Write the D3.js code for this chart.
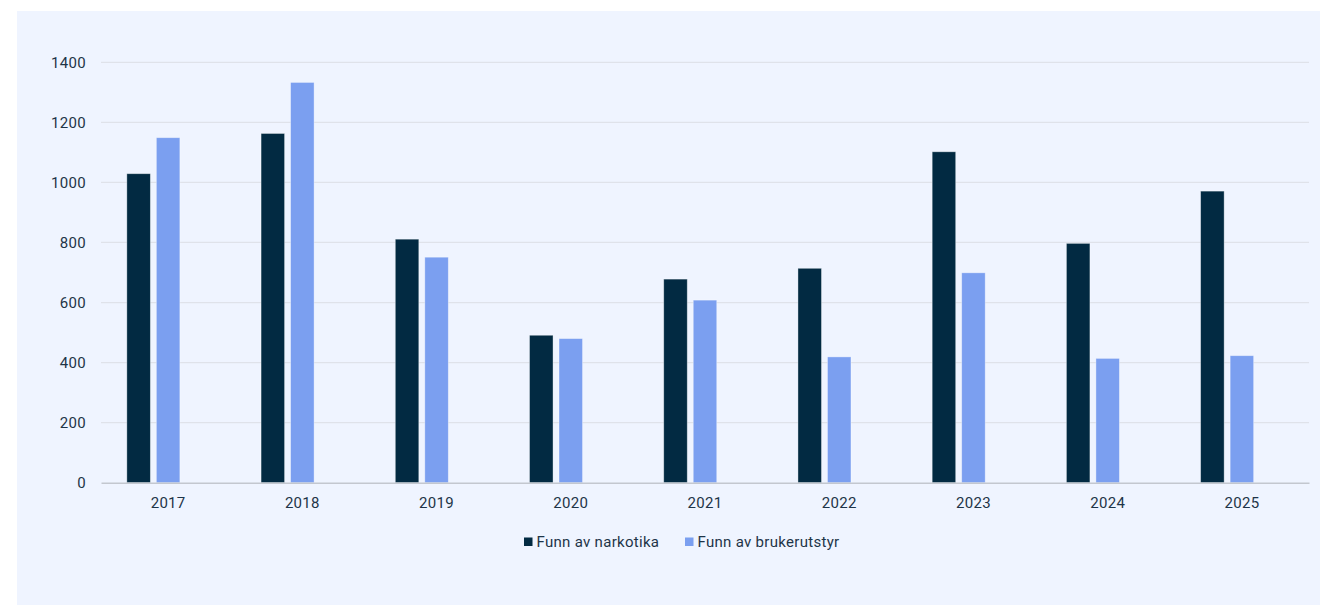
<!DOCTYPE html>
<html>
<head>
<meta charset="utf-8">
<script src="https://cdn.jsdelivr.net/npm/d3@7/dist/d3.min.js"></script>
<style>
  html, body { margin: 0; padding: 0; background: #ffffff; }
  svg { display: block; font-family: Roboto, "Noto Sans", sans-serif; }
  svg text { letter-spacing: 0.3px; }
</style>
</head>
<body>
<svg id="chart" width="1320" height="605"></svg>
<script>
// Yearly seizures: drugs vs. user equipment
const years = ["2017", "2018", "2019", "2020", "2021", "2022", "2023", "2024", "2025"];
const narkotika = [1029, 1163, 811, 491, 678, 714, 1102, 797, 971];
const brukerutstyr = [1149, 1333, 751, 480, 608, 419, 699, 414, 423];
const seriesNames = ["Funn av narkotika", "Funn av brukerutstyr"];
const seriesColors = ["#022a42", "#7b9ff0"];
const yTicks = [0, 200, 400, 600, 800, 1000, 1200, 1400];

const svg = d3.select("#chart");
const textColor = "#1e3448";
const fontSize = "15px";

// Panel background
svg.append("rect")
  .attr("x", 17).attr("y", 11)
  .attr("width", 1320 - 17).attr("height", 605 - 11)
  .attr("fill", "#eff4ff");

const plot = { left: 101, right: 1309, top: 62.3, bottom: 482.7 };

const x = d3.scaleBand().domain(years).range([plot.left, plot.right]).paddingInner(0).paddingOuter(0);
// three slots per year; the third slot stays empty
const slots = ["a", "b", "c"];
const xs = d3.scaleBand().domain(slots).range([0, x.bandwidth()]).paddingInner(0.203).paddingOuter(0.876);
const y = d3.scaleLinear().domain([0, 1400]).range([plot.bottom, plot.top]);

// Gridlines
svg.append("g")
  .selectAll("line")
  .data(yTicks.filter(d => d > 0))
  .join("line")
  .attr("x1", plot.left).attr("x2", plot.right)
  .attr("y1", d => y(d)).attr("y2", d => y(d))
  .attr("stroke", "#dfe2ea").attr("stroke-width", 1.3);

// Y axis labels
const yAxis = svg.append("g")
  .attr("transform", `translate(${plot.left},0)`)
  .call(d3.axisLeft(y).tickValues(yTicks).tickSize(0).tickPadding(15).tickFormat(d3.format("d")));
yAxis.select(".domain").remove();
yAxis.selectAll("text").attr("fill", textColor).style("font-size", fontSize).style("font-family", "Roboto");

// Bars
const rows = years.map((yr, i) => ({ year: yr, values: [narkotika[i], brukerutstyr[i]] }));
const groups = svg.append("g").selectAll("g")
  .data(rows)
  .join("g")
  .attr("transform", d => `translate(${x(d.year)},0)`);

groups.selectAll("rect")
  .data(d => d.values.map((v, k) => ({ v, k })))
  .join("rect")
  .attr("x", d => xs(slots[d.k]))
  .attr("width", xs.bandwidth())
  .attr("y", d => y(d.v))
  .attr("height", d => y(0) - y(d.v))
  .attr("fill", d => seriesColors[d.k])
  .attr("stroke", "rgba(255,255,255,0.45)")
  .attr("stroke-width", 0.8);

// X axis
const xAxis = svg.append("g")
  .attr("transform", `translate(0,${plot.bottom})`)
  .call(d3.axisBottom(x).tickSize(0).tickPadding(15));
xAxis.select(".domain").attr("stroke", "#c3c7cf").attr("stroke-width", 1.6);
xAxis.selectAll("text").attr("fill", textColor).style("font-size", fontSize).style("font-family", "Roboto");

// Legend
const legendItems = [
  { name: seriesNames[0], color: seriesColors[0], x: 524 },
  { name: seriesNames[1], color: seriesColors[1], x: 685 }
];
const legend = svg.append("g").selectAll("g")
  .data(legendItems)
  .join("g")
  .attr("transform", d => `translate(${d.x},537.5)`);
legend.append("rect")
  .attr("width", 8.5).attr("height", 8.5)
  .attr("fill", d => d.color);
legend.append("text")
  .attr("x", 12.5).attr("y", 9.5)
  .attr("fill", textColor)
  .style("font-size", fontSize)
  .text(d => d.name);
</script>
</body>
</html>
